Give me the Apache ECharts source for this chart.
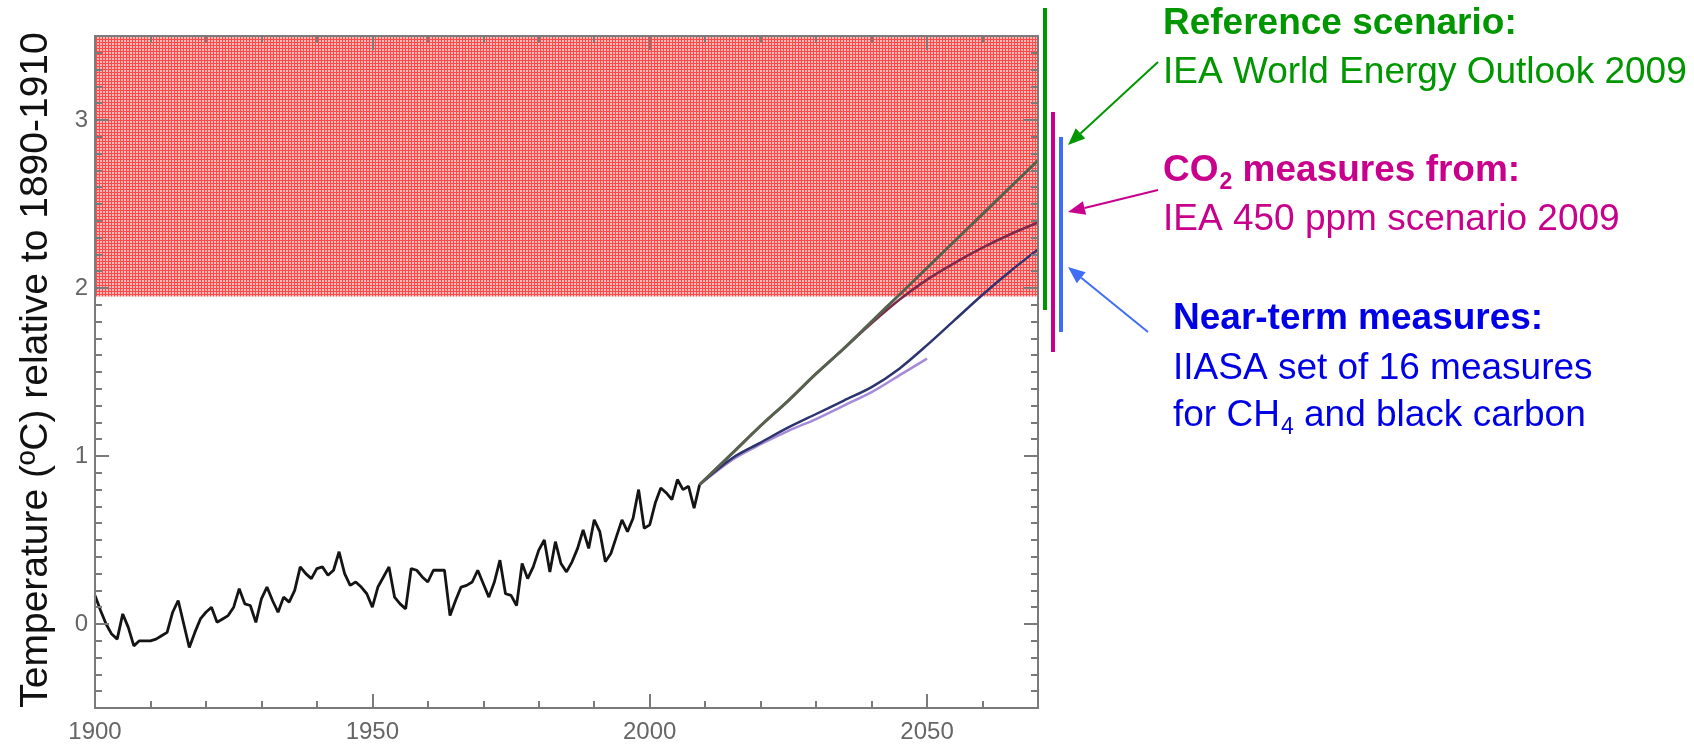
<!DOCTYPE html>
<html>
<head>
<meta charset="utf-8">
<script src="https://cdn.jsdelivr.net/npm/echarts@6/dist/echarts.min.js"></script>
<style>
  html, body { margin: 0; padding: 0; background: #fff; }
  #chart { width: 1694px; height: 747px; }
</style>
</head>
<body>
<div id="chart"></div>
<script>
// observed anomaly, one value per year from 1900
const histStart = 1900
const histValues = [
  0.17, 0.08, 0.00, -0.06, -0.09, 0.06, -0.02, -0.13, -0.10, -0.10,
  -0.10, -0.09, -0.07, -0.05, 0.07, 0.14, 0.00, -0.14, -0.05, 0.03,
  0.07, 0.10, 0.01, 0.03, 0.05, 0.10, 0.21, 0.12, 0.11, 0.01,
  0.15, 0.22, 0.14, 0.07, 0.16, 0.13, 0.20, 0.34, 0.30, 0.27,
  0.33, 0.34, 0.29, 0.32, 0.43, 0.30, 0.23, 0.25, 0.22, 0.18,
  0.10, 0.22, 0.28, 0.34, 0.16, 0.12, 0.09, 0.33, 0.32, 0.28,
  0.25, 0.32, 0.32, 0.32, 0.05, 0.14, 0.22, 0.23, 0.25, 0.32,
  0.24, 0.16, 0.25, 0.38, 0.18, 0.17, 0.11, 0.36, 0.27, 0.34,
  0.44, 0.50, 0.31, 0.49, 0.36, 0.31, 0.37, 0.45, 0.56, 0.45,
  0.62, 0.55, 0.37, 0.42, 0.52, 0.62, 0.55, 0.63, 0.80, 0.57,
  0.59, 0.72, 0.81, 0.78, 0.74, 0.86, 0.80, 0.82, 0.69, 0.83
]

// scenario projections
const projYears = [2009, 2015, 2020, 2025, 2030, 2035, 2040, 2045, 2050, 2055, 2060, 2065, 2070]
const referenceValues = [0.83, 1.02, 1.18, 1.33, 1.49, 1.64, 1.80, 1.96, 2.12, 2.28, 2.44, 2.60, 2.76]
const co2Values = [0.83, 1.02, 1.18, 1.33, 1.49, 1.64, 1.79, 1.93, 2.05, 2.15, 2.24, 2.32, 2.39]
const nearTermValues = [0.83, 0.99, 1.08, 1.17, 1.25, 1.33, 1.41, 1.52, 1.66, 1.81, 1.96, 2.10, 2.23]
const bothYears = [2009, 2015, 2020, 2025, 2030, 2035, 2040, 2045, 2050]
const bothValues = [0.83, 0.98, 1.07, 1.15, 1.22, 1.30, 1.38, 1.48, 1.58]

// danger zone above ~2 degrees
const zoneYears = [1900, 2070]
const zoneRange = [1.95, 3.5]

const xTicks = [1900, 1950, 2000, 2050]
const yTicks = [0, 1, 2, 3]

const histYears = histValues.map((_, i) => histStart + i)
const pairs = (xs, ys) => xs.map((x, i) => [x, ys[i]])

const GREEN = '#009600'
const MAGENTA = '#c8008c'
const BLUE_BAR = '#3f6ef5'
const BLUE_TEXT = '#0000e6'
const AXIS = '#7a7a7a'
const TICK_TEXT = '#666'
const FONT = '"Liberation Sans", Arial, sans-serif'
const MAIN_SIZE = 37
const SUB_SIZE = 23

function meshPattern() {
  const c = document.createElement('canvas')
  c.width = 3
  c.height = 3
  const ctx = c.getContext('2d')
  ctx.fillStyle = '#ffb8b8'
  ctx.fillRect(0, 0, 3, 3)
  ctx.fillStyle = '#ff4a4a'
  ctx.fillRect(0, 0, 3, 1)
  ctx.fillRect(0, 0, 1, 3)
  return c
}

function arrow(x1, y1, x2, y2, color) {
  const a = Math.atan2(y2 - y1, x2 - x1)
  const len = 17, half = 7
  const bx = x2 - len * Math.cos(a), by = y2 - len * Math.sin(a)
  const px = -Math.sin(a) * half, py = Math.cos(a) * half
  return [
    { type: 'line', shape: { x1, y1, x2: bx, y2: by }, style: { stroke: color, lineWidth: 2 } },
    { type: 'polygon', shape: { points: [[x2, y2], [bx + px, by + py], [bx - px, by - py]] }, style: { fill: color } },
  ]
}

function label(x, y, text, color, weight, size = MAIN_SIZE) {
  return {
    type: 'text', x, y,
    style: { text, fill: color, font: `${weight} ${size}px ${FONT}`, verticalAlign: 'middle', align: 'left' },
  }
}

const measureCtx = document.createElement('canvas').getContext('2d')
function textWidth(text, weight, size) {
  measureCtx.font = `${weight} ${size}px ${FONT}`
  return measureCtx.measureText(text).width
}

// text with a lowered subscript in the middle, e.g. CO2
function subLabel(x, y, before, sub, after, color, weight) {
  const w1 = textWidth(before, weight, MAIN_SIZE)
  const w2 = textWidth(sub, weight, SUB_SIZE)
  return [
    label(x, y, before, color, weight),
    label(x + w1 + 1, y + 12, sub, color, weight, SUB_SIZE),
    label(x + w1 + w2 + 1, y, after, color, weight),
  ]
}

const chart = echarts.init(document.getElementById('chart'))

const baseX = { type: 'value', min: 1900, max: 2070, interval: 50, splitLine: { show: false }, z: 10 }
const baseY = { type: 'value', min: -0.5, max: 3.5, splitLine: { show: false }, z: 10 }
const axisLine = { onZero: false, lineStyle: { color: AXIS, width: 2 } }
const tickStyle = { color: AXIS, width: 2 }

chart.setOption({
  animation: false,
  textStyle: { fontFamily: FONT },
  grid: { left: 95, top: 36, right: 656, bottom: 39 },
  xAxis: [
    {
      ...baseX, position: 'bottom', axisLine,
      axisTick: { inside: true, length: 14, customValues: xTicks, lineStyle: tickStyle },
      minorTick: { show: true, splitNumber: 5, length: 7, lineStyle: tickStyle },
      axisLabel: { customValues: xTicks, fontSize: 24, color: TICK_TEXT, margin: 12, formatter: (v) => String(v) },
    },
    {
      ...baseX, position: 'top', axisLine,
      axisTick: { inside: true, length: 14, customValues: xTicks, lineStyle: tickStyle },
      minorTick: { show: true, splitNumber: 5, length: 7, lineStyle: tickStyle },
      axisLabel: { show: false },
    },
  ],
  yAxis: [
    {
      ...baseY, position: 'left', interval: 0.1, axisLine,
      axisTick: { inside: true, length: 7, lineStyle: tickStyle },
      axisLabel: { show: false },
    },
    {
      ...baseY, position: 'left', interval: 0.5,
      axisLine: { show: false, onZero: false },
      axisTick: { inside: true, length: 14, customValues: yTicks, lineStyle: tickStyle },
      axisLabel: { customValues: yTicks, fontSize: 24, color: TICK_TEXT, margin: 7 },
    },
    {
      ...baseY, position: 'right', interval: 0.1, axisLine,
      axisTick: { inside: true, length: 7, lineStyle: tickStyle },
      axisLabel: { show: false },
    },
    {
      ...baseY, position: 'right', interval: 0.5,
      axisLine: { show: false, onZero: false },
      axisTick: { inside: true, length: 14, customValues: yTicks, lineStyle: tickStyle },
      axisLabel: { show: false },
    },
  ],
  series: [
    {
      name: 'zone', type: 'line', data: [], z: 1,
      markArea: {
        silent: true,
        itemStyle: { color: { image: meshPattern(), repeat: 'repeat' } },
        data: [[
          { xAxis: zoneYears[0], yAxis: zoneRange[0] },
          { xAxis: zoneYears[1], yAxis: zoneRange[1] },
        ]],
      },
    },
    {
      name: 'Observed', type: 'line', data: pairs(histYears, histValues), z: 3,
      showSymbol: false, lineStyle: { color: '#141414', width: 2.8 },
    },
    {
      name: 'CO2 + near-term', type: 'line', data: pairs(bothYears, bothValues), z: 3,
      showSymbol: false, smooth: 0.3, lineStyle: { color: '#a58ad8', width: 2.5 },
    },
    {
      name: 'Near-term measures', type: 'line', data: pairs(projYears, nearTermValues), z: 4,
      showSymbol: false, smooth: 0.3, lineStyle: { color: '#2c3470', width: 2.5 },
    },
    {
      name: 'CO2 measures', type: 'line', data: pairs(projYears, co2Values), z: 4,
      showSymbol: false, smooth: 0.3, lineStyle: { color: '#7c2a4a', width: 2.5 },
    },
    {
      name: 'Reference', type: 'line', data: pairs(projYears, referenceValues), z: 5,
      showSymbol: false, smooth: 0.3, lineStyle: { color: '#56624e', width: 3 },
    },
  ],
  graphic: [
    {
      type: 'text', x: 36, y: 370, rotation: Math.PI / 2,
      style: {
        text: 'Temperature (ºC) relative to 1890-1910', fill: '#111',
        font: `39px ${FONT}`, align: 'center', verticalAlign: 'middle',
      },
    },
    { type: 'rect', shape: { x: 1043, y: 8, width: 4, height: 302 }, style: { fill: GREEN } },
    { type: 'rect', shape: { x: 1051, y: 112, width: 4, height: 240 }, style: { fill: MAGENTA } },
    { type: 'rect', shape: { x: 1059, y: 137, width: 4, height: 195 }, style: { fill: BLUE_BAR } },
    ...arrow(1158, 62, 1068, 145, GREEN),
    ...arrow(1158, 190, 1068, 212, MAGENTA),
    ...arrow(1148, 332, 1068, 267, BLUE_BAR),
    label(1163, 24, 'Reference scenario:', GREEN, 'bold'),
    label(1163, 73, 'IEA World Energy Outlook 2009', GREEN, 'normal'),
    ...subLabel(1163, 171, 'CO', '2', ' measures from:', MAGENTA, 'bold'),
    label(1163, 220, 'IEA 450 ppm scenario 2009', MAGENTA, 'normal'),
    label(1173, 319, 'Near-term measures:', BLUE_TEXT, 'bold'),
    label(1173, 369, 'IIASA set of 16 measures', BLUE_TEXT, 'normal'),
    ...subLabel(1173, 416, 'for CH', '4', ' and black carbon', BLUE_TEXT, 'normal'),
  ],
})
</script>
</body>
</html>
